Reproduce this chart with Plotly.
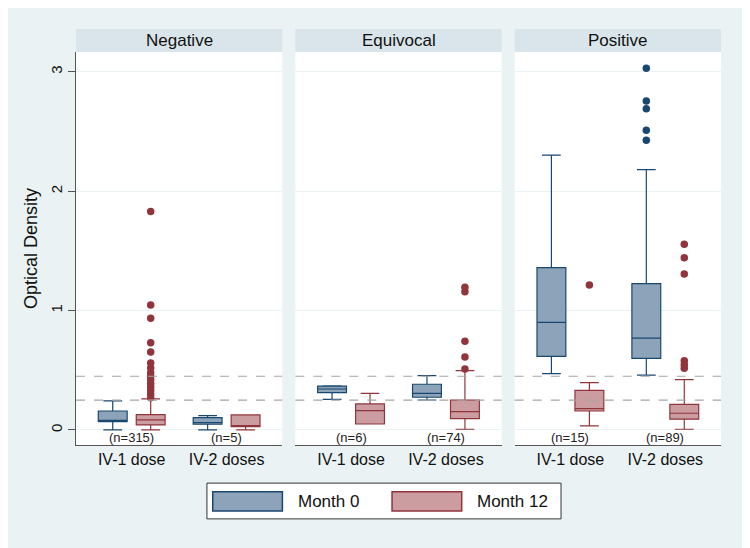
import plotly.graph_objects as go
from plotly.subplots import make_subplots

# %%
# values
panels = ['Negative', 'Equivocal', 'Positive']
groups = ['IV-1 dose', 'IV-2 doses']
n_labels = [['(n=315)', '(n=5)'], ['(n=6)', '(n=74)'], ['(n=15)', '(n=89)']]
cutoffs = [0.25, 0.45]

# Month 0, per panel [IV-1, IV-2]
m0_low = [[0.0, 0.0], [0.257, 0.251], [0.472, 0.46]]
m0_q1 = [[0.07, 0.048], [0.312, 0.274], [0.617, 0.60]]
m0_med = [[0.08, 0.061], [0.343, 0.307], [0.902, 0.77]]
m0_q3 = [[0.159, 0.103], [0.368, 0.383], [1.359, 1.225]]
m0_high = [[0.243, 0.12], [0.37, 0.455], [2.303, 2.18]]
m0_out = [[[], []], [[], []], [[], [3.03, 2.755, 2.69, 2.51, 2.426]]]

# Month 12
m12_low = [[0.0, 0.0], [0.05, 0.006], [0.034, 0.006]]
m12_q1 = [[0.042, 0.028], [0.05, 0.095], [0.159, 0.09]]
m12_med = [[0.084, 0.03], [0.162, 0.153], [0.178, 0.14]]
m12_q3 = [[0.128, 0.126], [0.218, 0.251], [0.332, 0.215]]
m12_high = [[0.26, 0.126], [0.307, 0.497], [0.396, 0.421]]
m12_out = [[[1.83, 1.047, 0.935, 0.731, 0.653, 0.56, 0.52, 0.48, 0.45, 0.42,
             0.39, 0.36, 0.33, 0.30, 0.27], []],
           [[], [1.195, 1.158, 0.743, 0.611, 0.51]],
           [[1.214], [1.555, 1.443, 1.306, 0.58, 0.547, 0.517]]]

# %%
navy = '#1A476F'
maroon = '#90353B'
navy_fill = '#8CA3B9'
maroon_fill = '#CB9CA0'
bg = '#EAF2F3'
strip = '#D9E5EB'
font = 'Arial, Liberation Sans, sans-serif'

series = [
    ('Month 0', 'm0', navy, navy_fill, m0_low, m0_q1, m0_med, m0_q3, m0_high, m0_out),
    ('Month 12', 'm12', maroon, maroon_fill, m12_low, m12_q1, m12_med, m12_q3, m12_high, m12_out),
]

fig = make_subplots(rows=1, cols=3, shared_yaxes=True, horizontal_spacing=0.0202)

for p in range(3):
    for name, og, lc, fc, lo, q1, med, q3, hi, out in series:
        fig.add_trace(go.Box(
            x=groups,
            lowerfence=lo[p], q1=q1[p], median=med[p], q3=q3[p], upperfence=hi[p],
            name=name, offsetgroup=og, showlegend=False, boxpoints=False,
            fillcolor=fc, line=dict(color=lc, width=1.2), whiskerwidth=0.65,
        ), row=1, col=p + 1)
        # outside values: same slot, box itself hidden
        ox = [g for g, vals in zip(groups, out[p]) for v in vals]
        oy = [v for vals in out[p] for v in vals]
        fig.add_trace(go.Box(
            x=ox, y=oy, name=name, offsetgroup=og, showlegend=False,
            boxpoints='all', pointpos=0, jitter=0,
            fillcolor='rgba(0,0,0,0)', line=dict(color='rgba(0,0,0,0)', width=0),
            marker=dict(color=lc, size=7.5, symbol='circle'),
        ), row=1, col=p + 1)
    for c in cutoffs:
        fig.add_hline(y=c, line=dict(color='#A5A5A5', width=1.2, dash='dash'), row=1, col=p + 1)
    xr = 'x' if p == 0 else 'x%d' % (p + 1)
    for g, lab in zip(groups, n_labels[p]):
        fig.add_annotation(x=g, y=-0.06, xref=xr, yref='y', text=lab, showarrow=False,
                           font=dict(size=13, color='#222', family=font))
    # strip header
    fig.add_shape(type='rect', xref=xr + ' domain', yref='paper', x0=0, x1=1, y0=1, y1=1.0585,
                  fillcolor=strip, line=dict(width=0), layer='below')
    fig.add_annotation(x=0.5, y=1.029, xref=xr + ' domain', yref='paper', text=panels[p],
                       showarrow=False, font=dict(size=17, color='#111', family=font),
                       xanchor='center', yanchor='middle')

# page body keeps an 8px margin, so the figure is 8px smaller and shifted up/left
fig.update_layout(
    width=742, height=540,
    margin=dict(l=68, r=29, t=44, b=103),
    paper_bgcolor=bg, plot_bgcolor='white',
    boxmode='group', boxgap=0.2, boxgroupgap=0.24,
    font=dict(family=font, color='#111'),
)
fig.update_xaxes(range=[-0.587, 1.587], type='category', showline=True, linecolor='#555',
                 linewidth=1.3, ticks='', showgrid=False, zeroline=False,
                 tickfont=dict(size=16))
fig.update_yaxes(range=[-0.126, 3.166], tickvals=[0, 1, 2, 3], showgrid=True, gridcolor=bg,
                 zeroline=False)
fig.update_yaxes(row=1, col=1, showline=True, linecolor='#555', linewidth=1.3, ticks='outside',
                 ticklen=7, tickcolor='#555', tickangle=-90, tickfont=dict(size=15),
                 ticklabelstandoff=0,
                 title=dict(text='Optical Density', font=dict(size=18), standoff=5))
fig.update_yaxes(row=1, col=2, showticklabels=False, ticks='')
fig.update_yaxes(row=1, col=3, showticklabels=False, ticks='')

# legend drawn by hand so the swatches are as wide as in the original
fig.add_shape(type='rect', xref='paper', yref='paper', x0=0.203, x1=0.752, y0=-0.188, y1=-0.097,
              fillcolor='white', line=dict(color='#333', width=1))
for (name, og, lc, fc, *_), sx in zip(series, [0.212, 0.490]):
    fig.add_shape(type='rect', xref='paper', yref='paper', x0=sx, x1=sx + 0.108,
                  y0=-0.168, y1=-0.119, fillcolor=fc, line=dict(color=lc, width=1.5))
    fig.add_annotation(x=sx + 0.129, y=-0.1435, xref='paper', yref='paper', text=name,
                       showarrow=False, xanchor='left', yanchor='middle',
                       font=dict(size=17, color='#111', family=font))

fig.write_html("out.html")
